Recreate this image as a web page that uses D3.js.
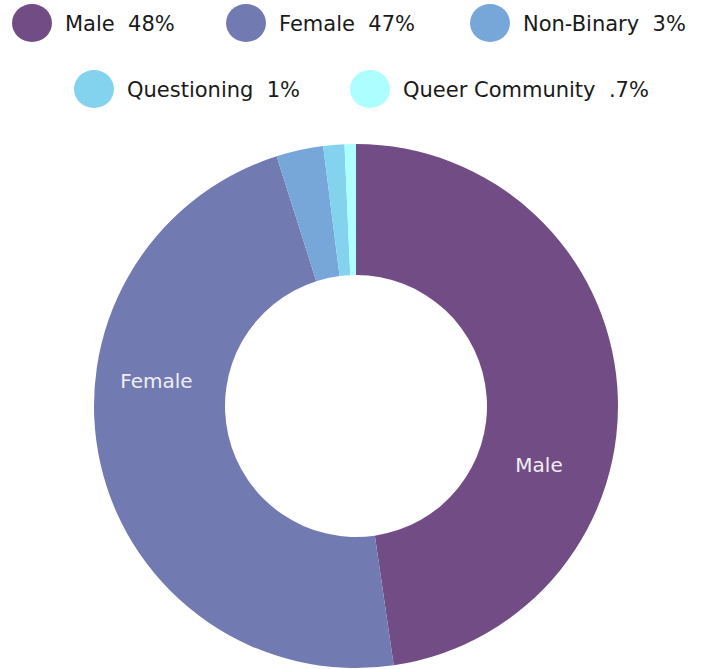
<!DOCTYPE html>
<html lang="en">
<meta charset="UTF-8">
<title>Gender donut</title>
<script src="https://d3js.org/d3.v7.min.js"></script>
<style>
html, body { margin: 0; padding: 0; background: #fff; }
text { font-family: "DejaVu Sans", sans-serif; }
</style>
<body>
<div id="my_dataviz"></div>
<script>
// data
var categories = ["Male", "Female", "Non-Binary", "Questioning", "Queer Community"];
var shares     = [47.7, 47.4, 2.9, 1.3, 0.7];
var legendText = ["48%", "47%", "3%", "1%", ".7%"];
var colors     = ["#724d85", "#727ab2", "#77a7d8", "#83d3ee", "#acfeff"];
var sliceLabels = ["Male", "Female"];

var width = 702, height = 669;
var svg = d3.select("#my_dataviz")
  .append("svg")
    .attr("width", width)
    .attr("height", height);

// legend layout: left edge of each swatch and row height
var legendX = [12, 226, 470, 74, 350];
var legendY = [23, 23, 23, 89, 89];
var dotR = 20, dotGap = 13;

var legend = svg.selectAll(".legend")
  .data(categories)
  .enter()
  .append("g")
    .attr("class", "legend")
    .attr("transform", function(d, i) { return "translate(" + legendX[i] + "," + legendY[i] + ")"; });

legend.append("ellipse")
  .attr("cx", dotR).attr("cy", 0)
  .attr("rx", dotR).attr("ry", dotR - 1)
  .attr("fill", function(d, i) { return colors[i]; });

legend.append("text")
  .attr("x", dotR * 2 + dotGap)
  .attr("y", 0)
  .attr("dy", "0.37em")
  .attr("fill", "#1a1a1a")
  .style("font-size", "21px")
  .style("white-space", "pre")
  .text(function(d, i) { return d + "  " + legendText[i]; });

// donut
var cx = 356, cy = 406, outerR = 262, innerR = 131;
var pie = d3.pie().sort(null).value(function(d) { return d; });
var arc = d3.arc().innerRadius(innerR).outerRadius(outerR);
var arcs = pie(shares);

var chart = svg.append("g").attr("transform", "translate(" + cx + "," + cy + ")");
chart.selectAll("path")
  .data(arcs)
  .enter()
  .append("path")
    .attr("d", arc)
    .attr("fill", function(d, i) { return colors[i]; });

// slice labels sit a little clockwise of the slice middle
var labelShift = 21 * Math.PI / 180;
var labelR = (innerR + outerR) / 2;
chart.selectAll(".lbl")
  .data(arcs.slice(0, sliceLabels.length))
  .enter()
  .append("text")
    .attr("class", "lbl")
    .attr("x", function(d) { return labelR * Math.sin((d.startAngle + d.endAngle) / 2 + labelShift); })
    .attr("y", function(d) { return -labelR * Math.cos((d.startAngle + d.endAngle) / 2 + labelShift); })
    .attr("dx", -5)
    .attr("dy", "0.45em")
    .attr("text-anchor", "middle")
    .attr("fill", "#f0eef5")
    .style("font-size", "20px")
    .text(function(d, i) { return sliceLabels[i]; });
</script>
</body>
</html>
